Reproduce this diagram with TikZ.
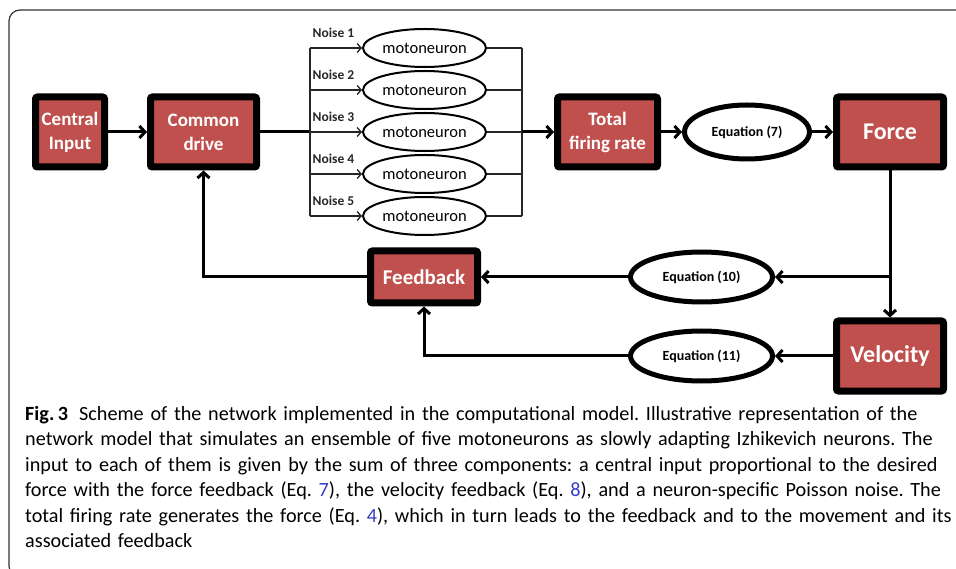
\documentclass[tikz,border=0pt]{standalone}
\usepackage{fontspec}
\setmainfont{Carlito}
\usepackage{xcolor}
\usepackage{tikz}
\usetikzlibrary{shapes.geometric,arrows.meta,positioning}

\definecolor{boxred}{RGB}{192,80,77}
\definecolor{linkblue}{RGB}{50,60,200}

\begin{document}
\begin{tikzpicture}[
    x=1pt, y=-1pt,
    box/.style={rectangle, draw=black, line width=7pt, fill=boxred, text=white, align=center, rounded corners=2pt, minimum height=70pt, inner sep=1pt, font=\bfseries\fontsize{19}{24}\selectfont},
    neuron/.style={ellipse, draw, line width=2pt, fill=white, minimum width=123pt, minimum height=38pt, inner sep=0pt, font=\fontsize{16.5}{18}\selectfont},
    eq/.style={ellipse, draw, line width=5pt, fill=white, minimum height=50pt, inner sep=0pt, font=\bfseries\fontsize{14}{16}\selectfont},
    noise/.style={font=\bfseries\fontsize{13.5}{15}\selectfont, inner sep=0pt},
    arrow/.style={-{Straight Barb[length=5.5pt,width=12pt]}, line width=3pt},
    line/.style={line width=3pt},
    thinarrow/.style={-{Straight Barb[length=4pt,width=9pt]}, line width=1.3pt, black!85},
    bus/.style={line width=1.3pt, black!85},
    frame/.style={line width=1.2pt, rounded corners=11pt, black!80}
]
\useasboundingbox (0,0) rectangle (956,569);
\clip (0,0) rectangle (956,569);

% Frame of the figure
\draw[frame] (22,577) -- (9,577) -- (9,10) -- (970,10);

% Input side
\node[box, minimum width=69pt] (central) at (70,132) {Central\\Input};
\node[box, minimum width=106pt, right=39pt of central] (common) {Common\\drive};

% Motoneuron pool
\node[neuron] (mn3) at (424.5,132) {motoneuron};
\node[neuron, above=2pt of mn3] (mn2) {motoneuron};
\node[neuron, above=2pt of mn2] (mn1) {motoneuron};
\node[neuron, below=2pt of mn3] (mn4) {motoneuron};
\node[neuron, below=2pt of mn4] (mn5) {motoneuron};
\coordinate (busin) at (310,132);
\coordinate (busout) at (522,132);

% Output side
\node[box, minimum width=100pt] (total) at (607.5,132) {Total\\firing rate};
\node[eq, minimum width=125pt, minimum height=54pt, right=21pt of total] (eqseven) {Equation (7)};
\node[box, minimum width=107pt, right=21pt of eqseven, font=\bfseries\fontsize{24}{28}\selectfont] (force) {Force};
\node[box, minimum width=107pt, below=147pt of force, font=\bfseries\fontsize{24}{28}\selectfont] (velocity) {Velocity};
\node[eq, minimum width=142pt, left=58pt of velocity] (eqeleven) {Equation (11)};
\node[eq, minimum width=142pt, above=24pt of eqeleven] (eqten) {Equation (10)};
\node[box, minimum width=107pt, minimum height=52pt, left=147pt of eqten, font=\bfseries\fontsize{21}{24}\selectfont] (feedback) {Feedback};
\coordinate (split) at (force.south |- eqten.east);

% Forward path
\draw[arrow] (central) -- (common);
\draw[line] (common.east) -- (busin);
\draw[bus] (mn1.west -| busin) -- (mn5.west -| busin);
\draw[thinarrow] (mn1.west -| busin) -- node[noise, pos=0, anchor=base west, xshift=2pt, yshift=10pt] {Noise 1} (mn1.west);
\draw[thinarrow] (mn2.west -| busin) -- node[noise, pos=0, anchor=base west, xshift=2pt, yshift=10pt] {Noise 2} (mn2.west);
\draw[thinarrow] (mn3.west -| busin) -- node[noise, pos=0, anchor=base west, xshift=2pt, yshift=10pt] {Noise 3} (mn3.west);
\draw[thinarrow] (mn4.west -| busin) -- node[noise, pos=0, anchor=base west, xshift=2pt, yshift=10pt] {Noise 4} (mn4.west);
\draw[thinarrow] (mn5.west -| busin) -- node[noise, pos=0, anchor=base west, xshift=2pt, yshift=10pt] {Noise 5} (mn5.west);
\draw[bus] (mn1.east) -- (mn1.east -| busout);
\draw[bus] (mn2.east) -- (mn2.east -| busout);
\draw[bus] (mn3.east) -- (mn3.east -| busout);
\draw[bus] (mn4.east) -- (mn4.east -| busout);
\draw[bus] (mn5.east) -- (mn5.east -| busout);
\draw[bus] (mn1.east -| busout) -- (mn5.east -| busout);
\draw[arrow] (busout) -- (total);
\draw[arrow] (total) -- (eqseven);
\draw[arrow] (eqseven) -- (force);

% Feedback loops
\draw[arrow] (force) -- (velocity);
\draw[arrow] (split) -- (eqten);
\draw[arrow] (eqten) -- (feedback);
\draw[arrow] (velocity) -- (eqeleven);
\draw[arrow] (eqeleven.west) -| (feedback.south);
\draw[arrow] (feedback.west) -| (common.south);

% Caption
\node[anchor=north west, inner sep=0pt, text width=1000pt, align=left, font=\frenchspacing\fontsize{20.2}{25.5}\selectfont] (caption) at (25,406) {%
\textbf{Fig.\,3}\hspace{0.55em}Scheme of the network implemented in the computational model. Illustrative representation of the\\
network model that simulates an ensemble of five motoneurons as slowly adapting Izhikevich neurons. The\\
input to each of them is given by the sum of three components: a central input proportional to the desired\\
force with the force feedback (Eq.~\textcolor{linkblue}{7}), the velocity feedback (Eq.~\textcolor{linkblue}{8}), and a neuron-specific Poisson noise. The\\
total firing rate generates the force (Eq.~\textcolor{linkblue}{4}), which in turn leads to the feedback and to the movement and its\\
associated feedback};

\end{tikzpicture}
\end{document}
